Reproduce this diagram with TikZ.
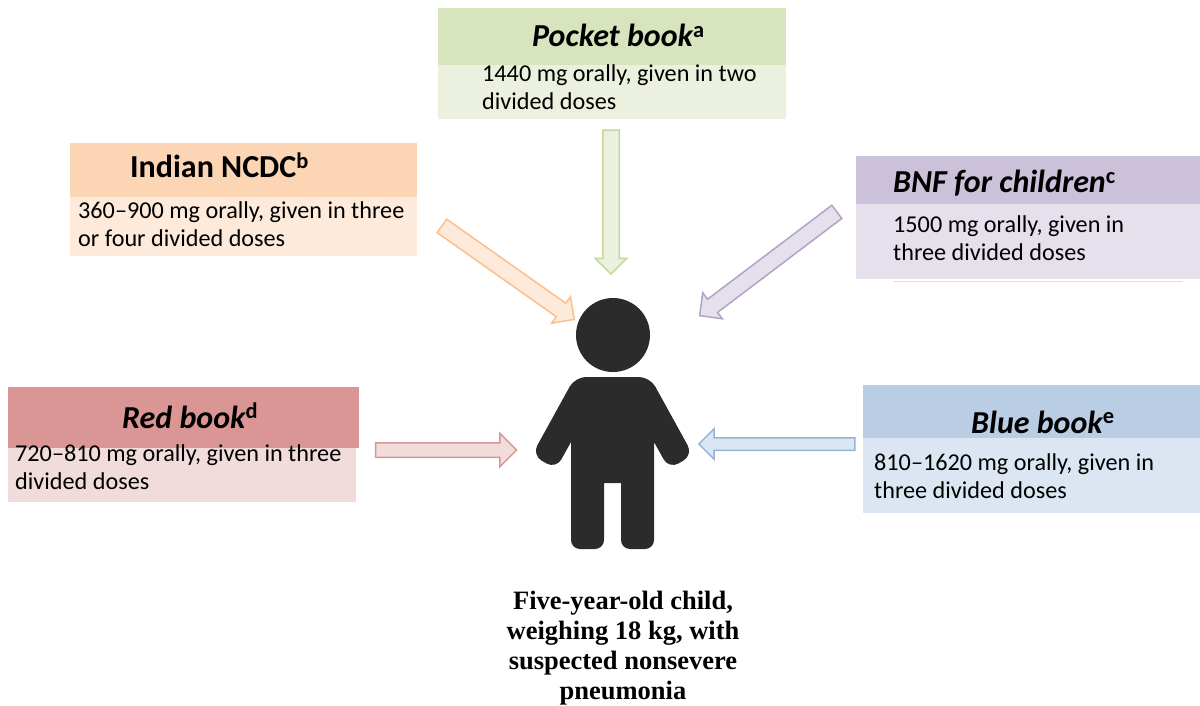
\documentclass[tikz,border=0pt]{standalone}
\usepackage{fontspec}
\setmainfont{Carlito}
\newfontfamily\capfont{Liberation Serif}
\usetikzlibrary{positioning,calc,shapes.arrows}

\definecolor{pocketdark}{HTML}{D7E4BD}
\definecolor{pocketlight}{HTML}{EBF1DE}
\definecolor{pocketline}{HTML}{C3D69B}
\definecolor{ncdcdark}{HTML}{FCD5B5}
\definecolor{ncdclight}{HTML}{FDEADA}
\definecolor{ncdcline}{HTML}{FAC090}
\definecolor{bnfdark}{HTML}{CCC1DA}
\definecolor{bnflight}{HTML}{E6E0EC}
\definecolor{bnfline}{HTML}{B3A2C7}
\definecolor{reddark}{HTML}{D99694}
\definecolor{redlight}{HTML}{F2DCDB}
\definecolor{redline}{HTML}{D99694}
\definecolor{bluedark}{HTML}{B9CDE5}
\definecolor{bluelight}{HTML}{DCE6F2}
\definecolor{blueline}{HTML}{95B3D7}
\definecolor{childgrey}{HTML}{2B2B2B}

\begin{document}
\begin{tikzpicture}[x=1pt,y=-1pt,
  boxpart/.style={draw=none,inner sep=0pt,outer sep=0pt,anchor=north west},
  headtext/.style={anchor=base west,inner sep=0pt,font=\fontsize{32}{36}\selectfont\bfseries},
  dose/.style={anchor=base west,inner sep=0pt,align=left,font=\fontsize{24.2}{28}\selectfont},
  blockarr/.style={single arrow,single arrow head indent=0pt,inner xsep=0pt,line width=1.5pt},
  childtext/.style={inner sep=0pt,align=center,font=\capfont\bfseries\fontsize{26.5}{30}\selectfont}]
  \useasboundingbox (0,0) rectangle (1200,706);
  \fill[white] (0,0) rectangle (1200,706);
  % the five sources
  \node[boxpart,fill=pocketdark,minimum width=348pt,minimum height=57pt] (pockethead) at (438,8) {};
  \node[boxpart,fill=pocketlight,minimum width=348pt,minimum height=54pt,below=0pt of pockethead.south west,anchor=north west] (pocketbody) {};
  \node[headtext,font=\fontsize{32}{36}\selectfont\bfseries\itshape] (pockettitle) at (532,47) {Pocket book\textsuperscript{\upshape a}};
  \node[dose] (pocketdose) at (482,110) {1440 mg orally, given in two\\divided doses};

  \node[boxpart,fill=ncdcdark,minimum width=347pt,minimum height=54pt] (ncdchead) at (70,143) {};
  \node[boxpart,fill=ncdclight,minimum width=347pt,minimum height=59pt,below=0pt of ncdchead.south west,anchor=north west] (ncdcbody) {};
  \node[headtext] (ncdctitle) at (130,178) {Indian NCDC\textsuperscript{b}};
  \node[dose] (ncdcdose) at (78,246) {360–900 mg orally, given in three\\or four divided doses};

  \node[boxpart,fill=bnfdark,minimum width=344pt,minimum height=48pt] (bnfhead) at (856,156) {};
  \node[boxpart,fill=bnflight,minimum width=344pt,minimum height=75pt,below=0pt of bnfhead.south west,anchor=north west] (bnfbody) {};
  \draw[gray!25,line width=1pt] (bnfbody.south west) ++(37,2) -- ++(290,0);
  \node[headtext,font=\fontsize{32}{36}\selectfont\bfseries\itshape] (bnftitle) at (893,193) {BNF for children\textsuperscript{\upshape c}};
  \node[dose] (bnfdose) at (893,260) {1500 mg orally, given in\\three divided doses};

  \node[boxpart,fill=reddark,minimum width=351pt,minimum height=61pt] (redhead) at (8,387) {};
  \node[boxpart,fill=redlight,minimum width=348pt,minimum height=54pt,below=0pt of redhead.south west,anchor=north west] (redbody) {};
  \node[headtext,font=\fontsize{32}{36}\selectfont\bfseries\itshape] (redtitle) at (122,428) {Red book\textsuperscript{\upshape d}};
  \node[dose] (reddose) at (15,489) {720–810 mg orally, given in three\\divided doses};

  \node[boxpart,fill=bluedark,minimum width=337pt,minimum height=53pt] (bluehead) at (863,385) {};
  \node[boxpart,fill=bluelight,minimum width=337pt,minimum height=75pt,below=0pt of bluehead.south west,anchor=north west] (bluebody) {};
  \node[headtext,font=\fontsize{32}{36}\selectfont\bfseries\itshape] (bluetitle) at (971,433) {Blue book\textsuperscript{\upshape e}};
  \node[dose] (bluedose) at (874,498) {810–1620 mg orally, given in\\three divided doses};

  % arrows towards the child
  \coordinate (pocketfrom) at (611,126);  \coordinate (pocketto) at (611,270);
  \coordinate (ncdcfrom) at (438.5,223.5); \coordinate (ncdcto) at (571,317);
  \coordinate (bnffrom) at (840,209.5);   \coordinate (bnfto) at (703,313);
  \coordinate (redfrom) at (372,450);     \coordinate (redto) at (513,450);
  \coordinate (bluefrom) at (858,444);    \coordinate (blueto) at (702,444);
  \node[blockarr,fill=pocketlight,draw=pocketline,rotate=-90,minimum height=144pt,inner ysep=7.5pt,single arrow head extend=7.5pt] (pocketarrow) at ($(pocketfrom)!.5!(pocketto)$) {};
  \node[blockarr,fill=ncdclight,draw=ncdcline,rotate=-35.2,minimum height=162pt,inner ysep=7.5pt,single arrow head extend=8pt] (ncdcarrow) at ($(ncdcfrom)!.5!(ncdcto)$) {};
  \node[blockarr,fill=bnflight,draw=bnfline,rotate=-142.9,minimum height=172pt,inner ysep=7.5pt,single arrow head extend=8pt] (bnfarrow) at ($(bnffrom)!.5!(bnfto)$) {};
  \node[blockarr,fill=redlight,draw=redline,minimum height=141pt,inner ysep=6.5pt,single arrow head extend=9.5pt] (redarrow) at ($(redfrom)!.5!(redto)$) {};
  \node[blockarr,fill=bluelight,draw=blueline,rotate=180,minimum height=156pt,inner ysep=5.5pt,single arrow head extend=9pt] (bluearrow) at ($(bluefrom)!.5!(blueto)$) {};

  % the child
  \fill[childgrey] (613,335) circle (37pt);
  \fill[childgrey,rounded corners=11pt] (575,377) -- (650,377) -- (693,455) -- (669,469)
    [sharp corners] -- (654,442) [rounded corners=9pt] -- (654,549) -- (621,549)
    [sharp corners] -- (621,483) -- (604,483) [rounded corners=9pt] -- (604,549) -- (571,549)
    [sharp corners] -- (571,442) [rounded corners=11pt] -- (556,469) -- (532,455) -- cycle;
  \node[childtext] (child) at (623,648) {Five-year-old child,\\weighing 18 kg, with\\suspected nonsevere\\pneumonia};
\end{tikzpicture}
\end{document}
